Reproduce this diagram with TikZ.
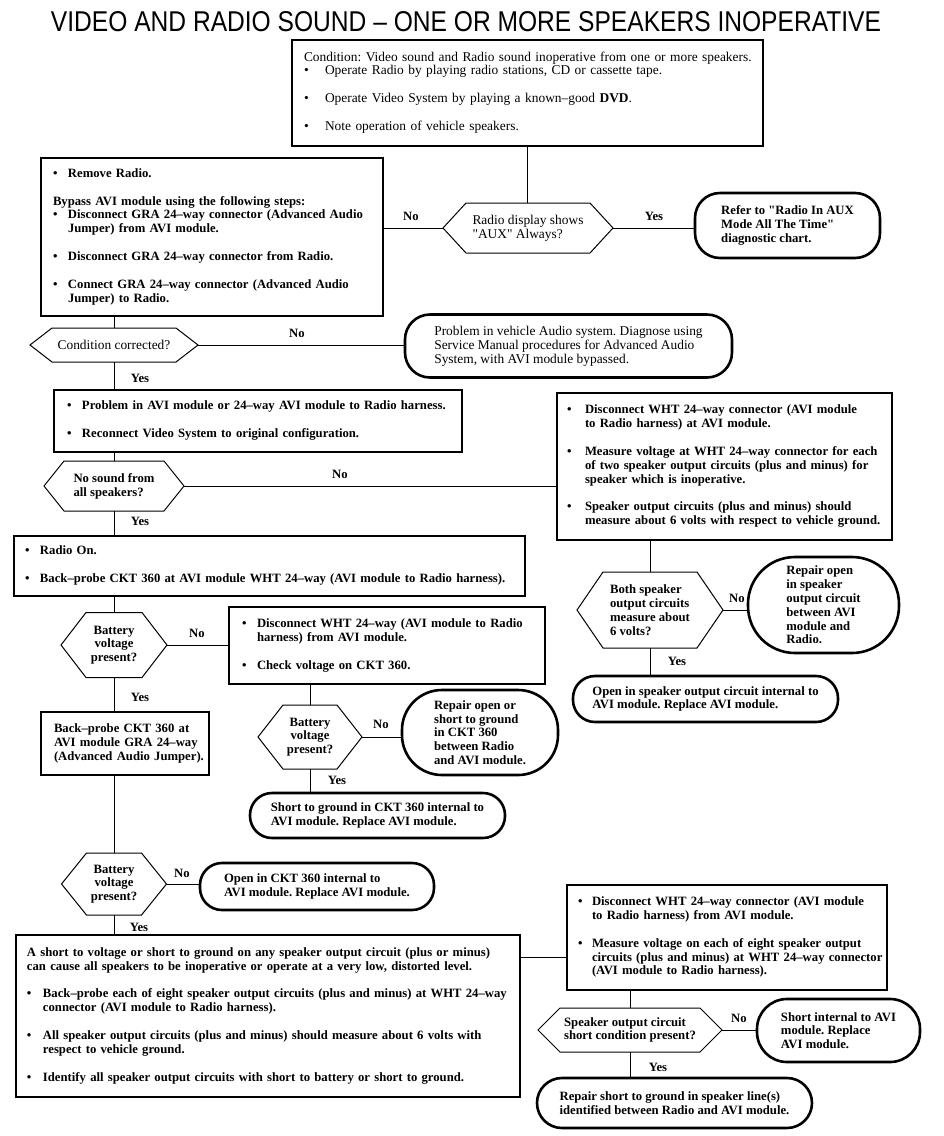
\documentclass[tikz,border=0pt]{standalone}
\usepackage{fontspec}
\setmainfont{Liberation Serif}
\setsansfont{Liberation Sans}
\newfontfamily\qf{Liberation Serif}
\usepackage{graphicx}
\usetikzlibrary{calc}
\frenchspacing
\newcommand\fs{\fontsize{12.7}{13.8}\selectfont}
\newcommand\fr{\fontsize{13.4}{13.8}\selectfont}
\newcommand\qq{{\qf"}}
\newcommand\bu[1][15pt]{\makebox[#1][l]{\textbullet}}
\newcommand\ind[1][15pt]{\hspace*{#1}}
\newcommand\gap{\\[14pt]}
\newcommand\tl[1]{\begin{tabular}{@{}l@{}}#1\end{tabular}}
\newcommand\hexshape[2]{\draw[hexl] (#1.west) -- ([xshift=#2pt]#1.north west) -- ([xshift=-#2pt]#1.north east) -- (#1.east) -- ([xshift=-#2pt]#1.south east) -- ([xshift=#2pt]#1.south west) -- cycle;}
\tikzset{
  every node/.style={outer sep=0pt},
  bx/.style={draw, line width=2.6pt, inner sep=0pt, align=left, font=\fs},
  rbx/.style={bx, rounded corners=#1},
  hx/.style={inner sep=0pt, font=\fs},
  hexl/.style={line width=1pt, line join=miter},
  ln/.style={line width=1pt},
  lab/.style={inner sep=0pt, font=\fs\bfseries}
}
\begin{document}
\begin{tikzpicture}[x=1pt,y=-1pt]
\fill[white] (0,0) rectangle (944,1136);
\useasboundingbox (0,0) rectangle (944,1136);

\node[inner sep=0pt] (title) at (466,22) {\resizebox{830pt}{20pt}{\sffamily VIDEO AND RADIO SOUND – ONE OR MORE SPEAKERS INOPERATIVE}};

% top box
\node[bx, font=\fr, minimum width=471pt, minimum height=106pt, text width=447pt] (T) at (527.5,93) {\tl{Condition: Video sound and Radio sound inoperative from one or more speakers.\\ \bu[21pt]Operate Radio by playing radio stations, CD or cassette tape.\gap \bu[21pt]Operate Video System by playing a known–good \textbf{DVD}.\gap \bu[21pt]Note operation of vehicle speakers.}};

\node[bx, font=\fs\bfseries, minimum width=342pt, minimum height=158pt, text width=318pt] (B1) at (212,237) {\tl{\bu Remove Radio.\gap Bypass AVI module using the following steps:\\ \bu Disconnect GRA 24–way connector (Advanced Audio\\ \ind Jumper) from AVI module.\gap \bu Disconnect GRA 24–way connector from Radio.\gap \bu Connect GRA 24–way connector (Advanced Audio\\ \ind Jumper) to Radio.}};

\node[hx, font=\fr, minimum width=170pt, minimum height=50pt, align=left] (D1) at (528,228) {Radio display shows\\\qq AUX\qq{} Always?};
\hexshape{D1}{23}

\node[rbx=25pt, font=\fs\bfseries, minimum width=185pt, minimum height=65pt, align=left] (RF) at (787.5,225.5) {Refer to \qq Radio In AUX\\Mode All The Time\qq\\diagnostic chart.};

\node[hx, font=\fr, minimum width=168pt, minimum height=34pt] (D2) at (114,345) {Condition corrected?};
\hexshape{D2}{22}

\node[rbx=25pt, font=\fr, minimum width=327pt, minimum height=63pt, align=left] (P1) at (568.5,346) {Problem in vehicle Audio system. Diagnose using\\Service Manual procedures for Advanced Audio\\System, with AVI module bypassed.};

\node[bx, font=\fs\bfseries, minimum width=408pt, minimum height=62pt, text width=382pt] (B2) at (258,421) {\tl{\bu Problem in AVI module or 24–way AVI module to Radio harness.\gap \bu Reconnect Video System to original configuration.}};

\node[hx, font=\fs\bfseries, minimum width=140pt, minimum height=50pt, align=left] (D3) at (114,486) {No sound from\\all speakers?};
\hexshape{D3}{20}

\node[bx, font=\fs\bfseries, minimum width=335pt, minimum height=147pt, text width=315pt] (R1) at (724.5,466.5) {\tl{\bu[18pt]Disconnect WHT 24–way connector (AVI module\\ \ind[18pt]to Radio harness) at AVI module.\gap \bu[18pt]Measure voltage at WHT 24–way connector for each\\ \ind[18pt]of two speaker output circuits (plus and minus) for\\ \ind[18pt]speaker which is inoperative.\gap \bu[18pt]Speaker output circuits (plus and minus) should\\ \ind[18pt]measure about 6 volts with respect to vehicle ground.}};

\node[hx, font=\fs\bfseries, minimum width=146pt, minimum height=76pt, align=left] (D5) at (650,610) {Both speaker\\output circuits\\measure about\\6 volts?};
\hexshape{D5}{26}

\node[rbx=47pt, font=\fs\bfseries, minimum width=151pt, minimum height=96pt, align=left] (E1) at (823.5,605) {Repair open\\in speaker\\output circuit\\between AVI\\module and\\Radio.};

\node[rbx=22pt, font=\fs\bfseries, minimum width=265pt, minimum height=46pt, align=left] (O1) at (705.5,699) {Open in speaker output circuit internal to\\AVI module. Replace AVI module.};

\node[bx, font=\fs\bfseries, minimum width=511pt, minimum height=60pt, text width=489pt] (B3) at (269.5,566) {\tl{\bu Radio On.\gap \bu Back–probe CKT 360 at AVI module WHT 24–way (AVI module to Radio harness).}};

\node[hx, font=\fs\bfseries, minimum width=106pt, minimum height=65pt, align=center] (D4) at (114,645) {Battery\\voltage\\present?};
\hexshape{D4}{25}

\node[bx, font=\fs\bfseries, minimum width=316pt, minimum height=77pt, text width=290pt] (M1) at (387,645.5) {\tl{\bu Disconnect WHT 24–way (AVI module to Radio\\ \ind harness) from AVI module.\gap \bu Check voltage on CKT 360.}};

\node[bx, font=\fs\bfseries, minimum width=168pt, minimum height=63pt, text width=142pt] (B4) at (125,743.5) {\tl{Back–probe CKT 360 at\\AVI module GRA 24–way\\(Advanced Audio Jumper).}};

\node[hx, font=\fs\bfseries, minimum width=104pt, minimum height=64pt, align=center] (D6) at (310,737) {Battery\\voltage\\present?};
\hexshape{D6}{25}

\node[rbx=40pt, font=\fs\bfseries, minimum width=156pt, minimum height=85pt, align=left] (E2) at (480,732.5) {Repair open or\\short to ground\\in CKT 360\\between Radio\\and AVI module.};

\node[rbx=22pt, font=\fs\bfseries, minimum width=255pt, minimum height=45pt, align=left] (S1) at (377.5,815.5) {Short to ground in CKT 360 internal to\\AVI module. Replace AVI module.};

\node[hx, font=\fs\bfseries, minimum width=105pt, minimum height=62pt, align=center] (D7) at (114,884) {Battery\\voltage\\present?};
\hexshape{D7}{25}

\node[rbx=22pt, font=\fs\bfseries, minimum width=234pt, minimum height=47pt, align=left] (O2) at (317,886.5) {Open in CKT 360 internal to\\AVI module. Replace AVI module.};

\node[bx, font=\fs\bfseries, minimum width=504pt, minimum height=162pt, text width=482pt] (BB) at (268,1016) {\tl{A short to voltage or short to ground on any speaker output circuit (plus or minus)\\can cause all speakers to be inoperative or operate at a very low, distorted level.\gap \bu[16pt]Back–probe each of eight speaker output circuits (plus and minus) at WHT 24–way\\ \ind[16pt]connector (AVI module to Radio harness).\gap \bu[16pt]All speaker output circuits (plus and minus) should measure about 6 volts with\\ \ind[16pt]respect to vehicle ground.\gap \bu[16pt]Identify all speaker output circuits with short to battery or short to ground.}};

\node[bx, font=\fs\bfseries, minimum width=320pt, minimum height=105pt, text width=298pt] (R2) at (727,937.5) {\tl{\bu[14pt]Disconnect WHT 24–way connector (AVI module\\ \ind[14pt]to Radio harness) from AVI module.\gap \bu[14pt]Measure voltage on each of eight speaker output\\ \ind[14pt]circuits (plus and minus) at WHT 24–way connector\\ \ind[14pt](AVI module to Radio harness).}};

\node[hx, font=\fs\bfseries, minimum width=184pt, minimum height=44pt, align=left] (D8) at (630,1030) {Speaker output circuit\\short condition present?};
\hexshape{D8}{22}

\node[rbx=30pt, font=\fs\bfseries, minimum width=163pt, minimum height=63pt, align=left] (S2) at (838.5,1030.5) {Short internal to AVI\\module. Replace\\AVI module.};

\node[rbx=25pt, font=\fs\bfseries, minimum width=275pt, minimum height=50pt, align=left] (RS) at (674.5,1103) {Repair short to ground in speaker line(s)\\identified between Radio and AVI module.};

% labels
\node[lab] (n1) at (411,216) {No};
\node[lab] (y1) at (654,216) {Yes};
\node[lab] (n2) at (297,333) {No};
\node[lab] (y2) at (140,378) {Yes};
\node[lab] (n3) at (340,474) {No};
\node[lab] (y3) at (140,521) {Yes};
\node[lab] (n5) at (737,598) {No};
\node[lab] (y5) at (677,661) {Yes};
\node[lab] (n4) at (197,633) {No};
\node[lab] (y4) at (140,697) {Yes};
\node[lab] (n6) at (381,724) {No};
\node[lab] (y6) at (337,780) {Yes};
\node[lab] (n7) at (182,873) {No};
\node[lab] (y7) at (139,927) {Yes};
\node[lab] (n8) at (739,1018) {No};
\node[lab] (y8) at (658,1067) {Yes};

% connectors
\coordinate (j1) at (540,957);
\draw[ln] (T.south) -- (T.south |- D1.north);
\draw[ln] (D1.west) -- (D1.west -| B1.east);
\draw[ln] (D1.east) -- (D1.east -| RF.west);
\draw[ln] (D2.north |- B1.south) -- (D2.north);
\draw[ln] (D2.east) -- (D2.east -| P1.west);
\draw[ln] (D2.south) -- (D2.south |- B2.north);
\draw[ln] (D3.north |- B2.south) -- (D3.north);
\draw[ln] (D3.east) -- (D3.east -| R1.west);
\draw[ln] (D3.south) -- (D3.south |- B3.north);
\draw[ln] (D5.north |- R1.south) -- (D5.north);
\draw[ln] (D5.east) -- (D5.east -| E1.west);
\draw[ln] (D5.south) -- (D5.south |- O1.north);
\draw[ln] (D4.north |- B3.south) -- (D4.north);
\draw[ln] (D4.east) -- (D4.east -| M1.west);
\draw[ln] (D4.south) -- (D4.south |- B4.north);
\draw[ln] (D6.north |- M1.south) -- (D6.north);
\draw[ln] (D6.east) -- (D6.east -| E2.west);
\draw[ln] (D6.south) -- (D6.south |- S1.north);
\draw[ln] (D7.north |- B4.south) -- (D7.north);
\draw[ln] (D7.east) -- (D7.east -| O2.west);
\draw[ln] (D7.south) -- (D7.south |- BB.north);
\draw[ln] (BB.east |- j1) -- (R2.west |- j1);
\draw[ln] (D8.north |- R2.south) -- (D8.north);
\draw[ln] (D8.east) -- (D8.east -| S2.west);
\draw[ln] (D8.south) -- (D8.south |- RS.north);
\end{tikzpicture}
\end{document}
